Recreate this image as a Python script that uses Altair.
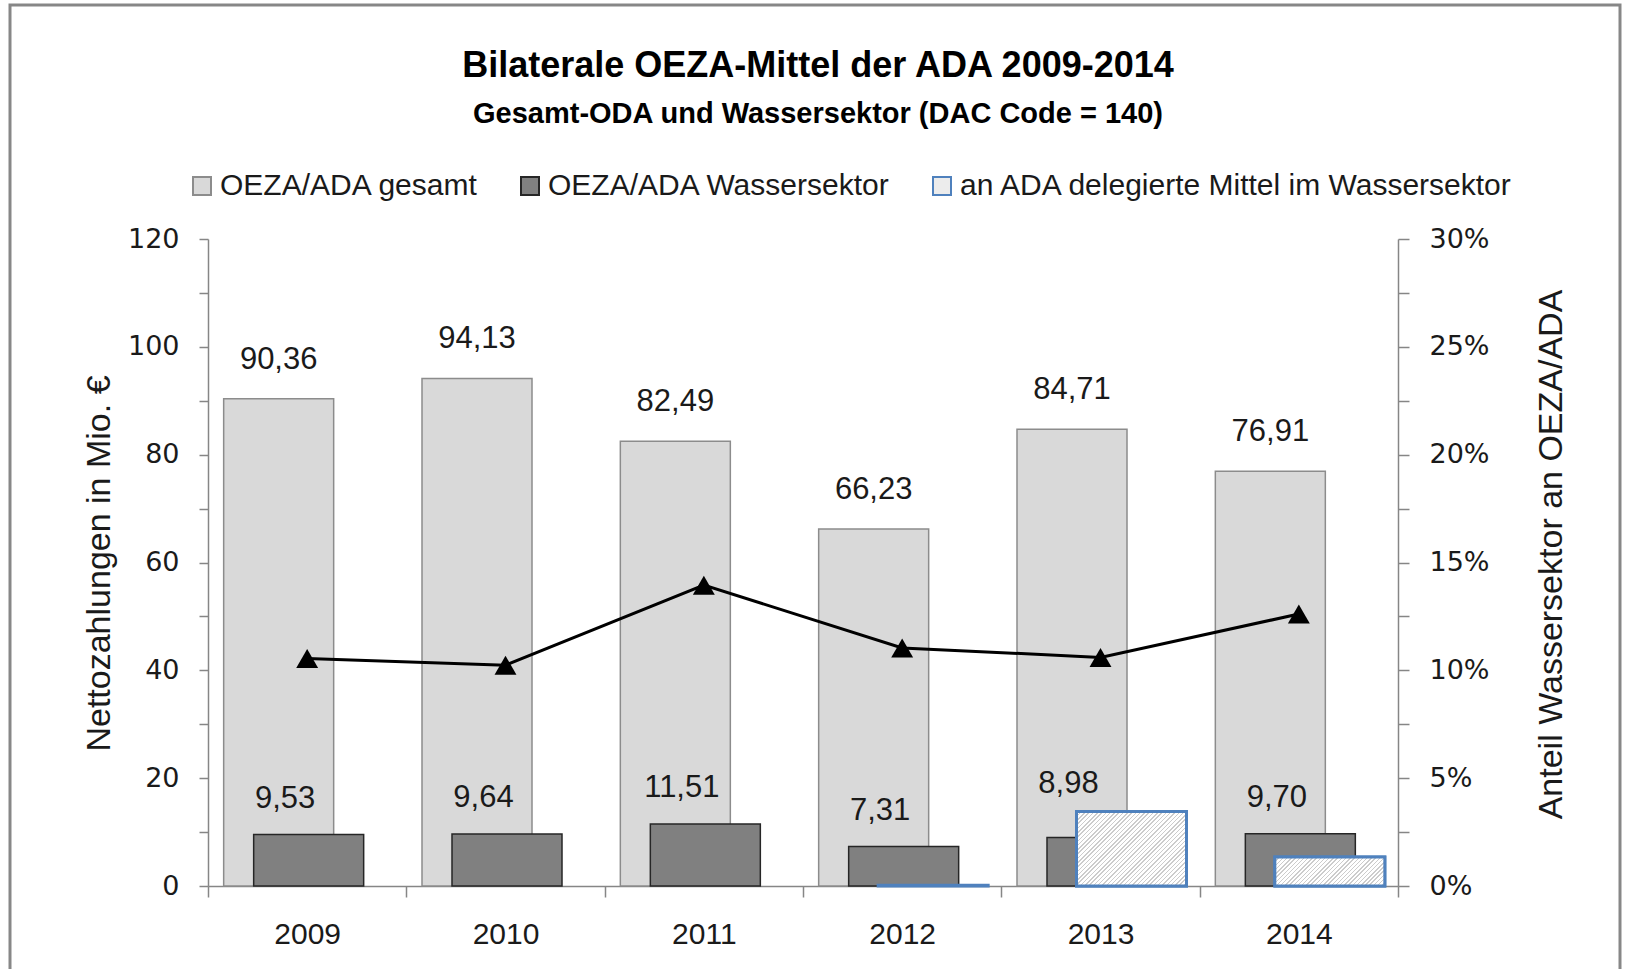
import math
import altair as alt
import pandas as pd

# ---------------- data ----------------
years = ["2009", "2010", "2011", "2012", "2013", "2014"]
gesamt = [90.36, 94.13, 82.49, 66.23, 84.71, 76.91]
wasser = [9.53, 9.64, 11.51, 7.31, 8.98, 9.70]
delegiert = [None, None, None, 0.15, 13.8, 5.4]
anteil = [0.1055, 0.1024, 0.1395, 0.1104, 0.1060, 0.1261]

series_names = [
    "OEZA/ADA gesamt",
    "OEZA/ADA Wassersektor",
    "an ADA delegierte Mittel im Wassersektor",
]
title_text = "Bilaterale OEZA-Mittel der ADA 2009-2014"
subtitle_text = "Gesamt-ODA und Wassersektor (DAC Code = 140)"
y_title = "Nettozahlungen in Mio. €"
y2_title = "Anteil Wassersektor an OEZA/ADA"
left_ticks = list(range(0, 121, 10))
right_ticks = [round(i * 0.025, 3) for i in range(13)]

# ---------------- style ----------------
W, H = 1190, 647
FONT = "Liberation Sans"
TICKFONT = "DejaVu Sans"
AX = "#868686"
TXT = "#1a1a1a"
BAR_W = 110
OFF_G, OFF_W, OFF_D = -28.5, 1.5, 31
BLUE = "#4F81BD"

df = pd.DataFrame({
    "year": years, "gesamt": gesamt, "wasser": wasser,
    "delegiert": delegiert, "anteil": anteil,
})

fill_scale = alt.Scale(domain=series_names, range=["#D9D9D9", "#808080", "#ECECEC"])
stroke_scale = alt.Scale(domain=series_names, range=["#8C8C8C", "#262626", BLUE])

legend = alt.Legend(
    title=None, orient="none", legendX=-21, legendY=-68, direction="horizontal",
    symbolType="square", symbolSize=324, symbolStrokeWidth=2,
    labelFont=FONT, labelFontSize=30, labelColor=TXT, columnPadding=36,
    labelOffset=3, labelLimit=0,
)

x_enc = alt.X(
    "year:N",
    scale=alt.Scale(paddingInner=0, paddingOuter=0),
    axis=alt.Axis(
        title=None, labelAngle=0, labelFont=FONT, labelFontSize=30, labelColor=TXT,
        labelPadding=22, tickSize=11, tickColor=AX, domainColor=AX, tickWidth=1.5,
        domainWidth=1.5, tickBand="extent", grid=False,
    ),
)

y_scale = alt.Scale(domain=[0, 120], nice=False, zero=True)
y_axis = alt.Axis(
    values=left_ticks, labelExpr="datum.value % 20 == 0 ? datum.label : ''",
    title=y_title, titleFont=FONT, titleFontSize=34, titleFontWeight="normal",
    titleColor=TXT, titleAngle=270, titleX=-109, titleY=324, titleAlign="center",
    titleBaseline="middle", labelFont=TICKFONT, labelFontSize=27, labelColor=TXT,
    labelPadding=20, tickSize=9, tickColor=AX, tickWidth=1.5, domainColor=AX,
    domainWidth=1.5, grid=False, labelOverlap=False, labelFlush=False,
)
y2_axis = alt.Axis(
    orient="right", values=right_ticks, format=".0%",
    labelExpr="round(datum.value * 1000) % 50 == 0 ? datum.label : ''",
    title=y2_title, titleFont=FONT, titleFontSize=34, titleFontWeight="normal",
    titleColor=TXT, titleAngle=270, titleX=153, titleY=315, titleAlign="center",
    titleBaseline="middle", labelFont=TICKFONT, labelFontSize=27, labelColor=TXT,
    labelPadding=20, tickSize=11, tickColor=AX, tickWidth=1.5, domainColor=AX,
    domainWidth=1.5, grid=False, labelOverlap=False, labelFlush=False,
)


def hatch(w, h, spacing=3.0, frac=0.35, col="#CCCCCC"):
    """Diagonal hatch via a striped linear gradient (45 degrees in pixel space)."""
    k = (w + h) / (w * w + h * h)
    n = max(1, round((w + h) / (math.sqrt(2) * spacing)))
    stops = []
    for i in range(n):
        a, b, c = i / n, (i + frac) / n, (i + 1) / n
        stops += [
            alt.GradientStop(offset=a, color=col),
            alt.GradientStop(offset=b, color=col),
            alt.GradientStop(offset=b, color="white"),
            alt.GradientStop(offset=c, color="white"),
        ]
    return alt.LinearGradient(gradient="linear", x1=0, y1=0, x2=k * w, y2=k * h, stops=stops)


one = pd.DataFrame({"title": [title_text], "subtitle": [subtitle_text]})

frame = alt.Chart(one).mark_rect(
    fillOpacity=0, stroke="#878787", strokeWidth=3
).encode(x=alt.value(-198), x2=alt.value(1412), y=alt.value(-234), y2=alt.value(760))

title_mark = alt.Chart(one).mark_text(
    font=FONT, fontSize=36, fontWeight="bold", color="black", align="center", baseline="middle"
).encode(x=alt.value(610), y=alt.value(-173), text="title:N")

subtitle_mark = alt.Chart(one).mark_text(
    font=FONT, fontSize=29, fontWeight="bold", color="black", align="center", baseline="middle"
).encode(x=alt.value(610), y=alt.value(-125), text="subtitle:N")

bar_g = alt.Chart(df).transform_calculate(series="'OEZA/ADA gesamt'").mark_bar(
    width=BAR_W, xOffset=OFF_G, strokeWidth=1.5
).encode(
    x=x_enc,
    y=alt.Y("gesamt:Q", scale=y_scale, axis=y_axis),
    fill=alt.Fill("series:N", scale=fill_scale, legend=legend),
    stroke=alt.Stroke("series:N", scale=stroke_scale, legend=legend),
)

bar_w = alt.Chart(df).transform_calculate(series="'OEZA/ADA Wassersektor'").mark_bar(
    width=BAR_W, xOffset=OFF_W, strokeWidth=1.5
).encode(
    x=x_enc,
    y=alt.Y("wasser:Q", scale=y_scale),
    fill=alt.Fill("series:N", scale=fill_scale, legend=legend),
    stroke=alt.Stroke("series:N", scale=stroke_scale, legend=legend),
)

bar_d = alt.Chart(df).transform_filter("isValid(datum.delegiert)").transform_calculate(
    series="'an ADA delegierte Mittel im Wassersektor'"
).mark_bar(width=BAR_W, xOffset=OFF_D, strokeWidth=3).encode(
    x=x_enc,
    y=alt.Y("delegiert:Q", scale=y_scale),
    fill=alt.Fill("series:N", scale=fill_scale, legend=legend),
    stroke=alt.Stroke("series:N", scale=stroke_scale, legend=legend),
)

hatch_layers = []
for yr, v in zip(years, delegiert):
    if v is not None and v > 1:
        h_px = v * H / 120.0
        hatch_layers.append(
            alt.Chart(df).transform_filter(f"datum.year == '{yr}'").mark_bar(
                width=BAR_W, xOffset=OFF_D, strokeWidth=3, stroke=BLUE,
                fill=hatch(BAR_W, h_px),
            ).encode(x=x_enc, y=alt.Y("delegiert:Q", scale=y_scale))
        )

lab_g = alt.Chart(df).transform_calculate(
    lbl="replace(format(datum.gesamt, '.2f'), '.', ',')"
).mark_text(xOffset=OFF_G, dy=-39, font=FONT, fontSize=31, color=TXT).encode(
    x=x_enc, y=alt.Y("gesamt:Q", scale=y_scale), text="lbl:N"
)

lab_w = alt.Chart(df).transform_calculate(
    lbl="replace(format(datum.wasser, '.2f'), '.', ',')"
).mark_text(
    xOffset={"expr": "datum.year == '2013' ? -32 : -22"},
    dy={"expr": "datum.year == '2013' ? -54 : -36"},
    font=FONT, fontSize=31, color=TXT,
).encode(x=x_enc, y=alt.Y("wasser:Q", scale=y_scale), text="lbl:N")

left = alt.layer(frame, title_mark, subtitle_mark, bar_g, bar_w, bar_d, *hatch_layers, lab_g, lab_w)

y2_scale = alt.Scale(domain=[0, 0.3], nice=False)
line = alt.Chart(df).mark_line(color="black", strokeWidth=3).encode(
    x=x_enc, y=alt.Y("anteil:Q", scale=y2_scale, axis=y2_axis)
)
pts = alt.Chart(df).mark_point(
    shape="triangle-up", filled=True, size=480, color="black", opacity=1
).encode(x=x_enc, y=alt.Y("anteil:Q", scale=y2_scale))
right = alt.layer(line, pts)

chart = alt.layer(left, right).resolve_scale(y="independent").properties(
    width=W, height=H,
    padding={"left": 208, "top": 239, "right": 234, "bottom": 83},
    autosize=alt.AutoSizeParams(type="none"),
    background="white",
).configure_view(strokeWidth=0)

chart.save("out.html", embed_options={"renderer": "svg", "actions": False})
